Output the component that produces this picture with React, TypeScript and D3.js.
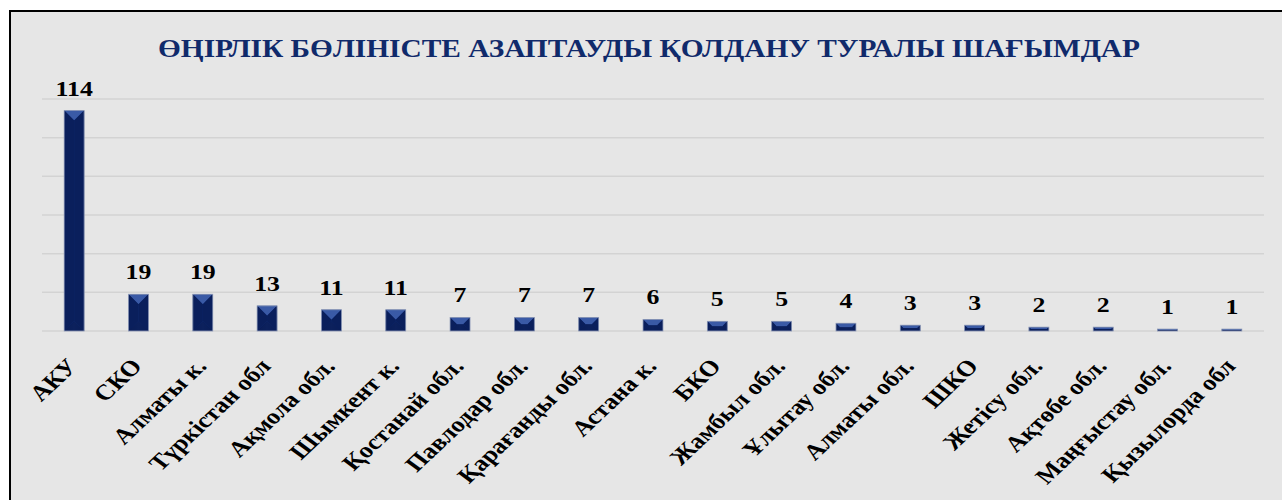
import React from "react";
import * as d3 from "d3";

const categories = [
  "АКУ", "СКО", "Алматы к.", "Түркістан обл", "Ақмола обл.", "Шымкент к.",
  "Қостанай обл.", "Павлодар обл.", "Қарағанды обл.", "Астана к.", "БКО",
  "Жамбыл обл.", "Ұлытау обл.", "Алматы обл.", "ШКО", "Жетісу обл.",
  "Ақтөбе обл.", "Маңғыстау обл.", "Қызылорда обл",
];
const values = [114, 19, 19, 13, 11, 11, 7, 7, 7, 6, 5, 5, 4, 3, 3, 2, 2, 1, 1];
const yTicks = [0, 20, 40, 60, 80, 100, 120];
const title = "ӨҢІРЛІК БӨЛІНІСТЕ АЗАПТАУДЫ ҚОЛДАНУ ТУРАЛЫ ШАҒЫМДАР";

const W = 1282;
const H = 500;
const plot = { left: 42, right: 1264, top: 99, bottom: 331 };
const FONT = "'Liberation Serif', 'Times New Roman', serif";
const SX = 1.2;

export default function App() {
  const x = d3
    .scaleBand<string>()
    .domain(categories)
    .range([plot.left, plot.right])
    .paddingInner(0.69)
    .paddingOuter(0.345);
  const y = d3.scaleLinear().domain([0, 120]).range([plot.bottom, plot.top]);
  const bw = x.bandwidth();

  return (
    <svg
      width={W}
      height={H}
      style={{ position: "absolute", left: 0, top: 0, display: "block" }}
      fontFamily={FONT}
    >
      <defs>
        <linearGradient id="face" x1="0" x2="1" y1="0" y2="0">
          <stop offset="0" stopColor="#0c2262" />
          <stop offset="0.5" stopColor="#15337e" />
          <stop offset="1" stopColor="#0c2262" />
        </linearGradient>
      </defs>
      <rect x={0} y={0} width={W} height={H} fill="#ffffff" />
      <rect x={10} y={11} width={W + 20} height={H + 20} fill="#e6e6e6" stroke="#000" strokeWidth={2} />
      <text
        transform={`translate(649,57) scale(${SX},1)`}
        textAnchor="middle"
        fontSize={24.5}
        fontWeight="bold"
        fill="#102a6b"
      >
        {title}
      </text>
      {yTicks.map((t) => (
        <line
          key={t}
          x1={plot.left}
          x2={plot.right}
          y1={y(t)}
          y2={y(t)}
          stroke="#d3d3d3"
          strokeWidth={1.5}
        />
      ))}
      {categories.map((c, i) => {
        const v = values[i];
        const x0 = x(c)!;
        const x1 = x0 + bw;
        const y0 = y(v);
        const y1 = y(0);
        const h = y1 - y0;
        const b = Math.min(bw / 2, h / 2);
        const ix0 = x0 + b, ix1 = x1 - b, iy0 = y0 + b, iy1 = y1 - b;
        const cx = x0 + bw / 2;
        return (
          <g key={c}>
            <rect x={x0} y={y0} width={bw} height={h} fill="url(#face)" />
            <polygon points={`${x0},${y0} ${x1},${y0} ${ix1},${iy0} ${ix0},${iy0}`} fill="#3a5aa6" />
            <polygon points={`${x0},${y1} ${x1},${y1} ${ix1},${iy1} ${ix0},${iy1}`} fill="#0a1d55" opacity={0.8} />
            <polygon points={`${x0},${y0} ${ix0},${iy0} ${ix0},${iy1} ${x0},${y1}`} fill="#0a1f5c" />
            <polygon points={`${x1},${y0} ${ix1},${iy0} ${ix1},${iy1} ${x1},${y1}`} fill="#0a1f5c" />
            <rect x={x0} y={y0} width={bw} height={h} fill="none" stroke="#8e9ab8" strokeWidth={0.8} />
            <text
              transform={`translate(${cx},${y0 - 15}) scale(${SX},1)`}
              textAnchor="middle"
              fontSize={21.5}
              fontWeight="bold"
              fill="#000"
            >
              {v}
            </text>
            <text
              transform={`translate(${cx + 5},${plot.bottom + 36}) scale(${SX},1) rotate(-48.5)`}
              textAnchor="end"
              fontSize={22}
              fontWeight="bold"
              fill="#000"
            >
              {c}
            </text>
          </g>
        );
      })}
    </svg>
  );
}
